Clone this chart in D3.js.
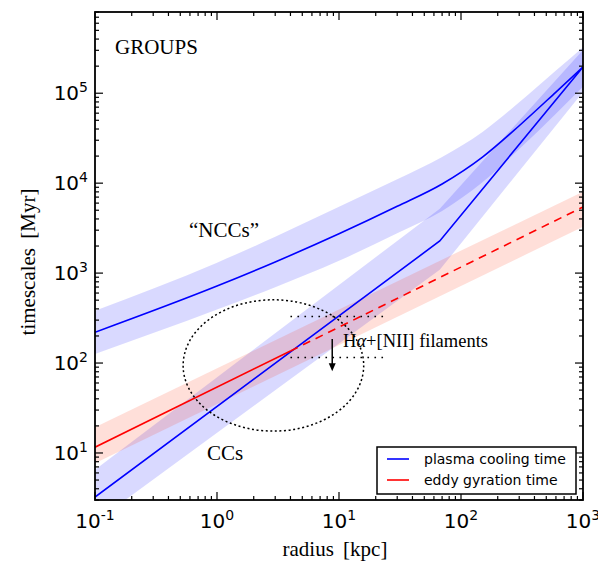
<!DOCTYPE html>
<html><head><meta charset="utf-8">
<script src="https://cdn.jsdelivr.net/npm/d3@7"></script>
<style>body{margin:0;background:#fff}</style>
</head><body>
<svg id="c" width="598" height="563"></svg>
<script>
// ---- data ----
const nccRadius = [0.1, 1, 3, 10, 30, 70, 150, 300, 600, 1000];
const nccTime   = [220, 718, 1330, 2735, 5530, 9800, 19500, 43500, 103000, 196000];
const nccHigh   = [382, 1306, 2535, 5460, 11040, 19540, 37150, 79250, 179000, 325000];
const nccLow    = [126, 394, 698, 1370, 2770, 4910, 10230, 23930, 59300, 118000];

const ccRadius = [0.1, 67, 1000];
const ccTime   = [3.24, 2275, 196000];
const ccHigh   = [6.5, 5210, 303000];
const ccLow    = [1.7, 1090, 103000];

const eddyRadius = [0.1, 4, 1000];   // solid up to 4 kpc, dashed beyond
const eddyTime   = [11.6, 136, 5430];
const eddyBandRadius = [0.1, 1000];
const eddyHigh = [19.3, 8040];
const eddyLow  = [7.7, 3270];

const filamentRadius = [4, 25];
const filamentTimes  = [330, 115];
const arrowRadius = 8.8;
const arrowTimes  = [185, 81];
const ellipseCenter = [2.9, 94];
const ellipseHalfDex = [0.74, 0.73];

const xMajor = [0.1, 1, 10, 100, 1000];
const xExp   = ["-1", "0", "1", "2", "3"];
const yMajor = [10, 100, 1000, 10000, 100000];
const yExp   = ["1", "2", "3", "4", "5"];
const xDomain = [0.1, 1000];
const yDomain = [3, 8e5];

const legendLabels = ["plasma cooling time", "eddy gyration time"];
const legendColors = ["#0000ff", "#ff0000"];

// ---- layout ----
const L = 95, T = 12, W = 488, H = 488;
const svg = d3.select("#c");
const x = d3.scaleLog().domain(xDomain).range([L, L + W]);
const y = d3.scaleLog().domain(yDomain).range([T + H, T]);

svg.append("defs").append("clipPath").attr("id", "clip")
  .append("rect").attr("x", L).attr("y", T).attr("width", W).attr("height", H);
const g = svg.append("g").attr("clip-path", "url(#clip)");

const area = (rs, lo, hi, curve) => d3.area().curve(curve || d3.curveLinear)
  .x((d, i) => x(rs[i])).y0((d, i) => y(lo[i])).y1((d, i) => y(hi[i]))(rs);
const line = (rs, ts, curve) => d3.line().curve(curve || d3.curveLinear)
  .x((d, i) => x(rs[i])).y((d, i) => y(ts[i]))(rs);

// bands
g.append("path").attr("d", area(nccRadius, nccLow, nccHigh, d3.curveMonotoneX)).attr("fill", "#0000ff").attr("fill-opacity", 0.15);
g.append("path").attr("d", area(ccRadius, ccLow, ccHigh)).attr("fill", "#0000ff").attr("fill-opacity", 0.15);
g.append("path").attr("d", area(eddyBandRadius, eddyLow, eddyHigh)).attr("fill", "#ff2a00").attr("fill-opacity", 0.15);

// lines
g.append("path").attr("d", line(nccRadius, nccTime, d3.curveMonotoneX)).attr("fill", "none").attr("stroke", "#0000ff").attr("stroke-width", 1.6);
g.append("path").attr("d", line(ccRadius, ccTime)).attr("fill", "none").attr("stroke", "#0000ff").attr("stroke-width", 1.6);
g.append("path").attr("d", line(eddyRadius.slice(0, 2), eddyTime.slice(0, 2))).attr("fill", "none").attr("stroke", "#ff0000").attr("stroke-width", 1.6);
g.append("path").attr("d", line(eddyRadius.slice(1), eddyTime.slice(1))).attr("fill", "none").attr("stroke", "#ff0000").attr("stroke-width", 1.6).attr("stroke-dasharray", "8,6");

// ellipse
const ecx = x(ellipseCenter[0]), ecy = y(ellipseCenter[1]);
const erx = x(ellipseCenter[0] * Math.pow(10, ellipseHalfDex[0])) - ecx;
const ery = y(ellipseCenter[1] / Math.pow(10, ellipseHalfDex[1])) - ecy;
g.append("ellipse").attr("cx", ecx).attr("cy", ecy).attr("rx", erx).attr("ry", ery)
  .attr("fill", "none").attr("stroke", "#000").attr("stroke-width", 1.5).attr("stroke-dasharray", "2,2.6");

// filament dotted lines
filamentTimes.forEach(t => {
  g.append("line").attr("x1", x(filamentRadius[0])).attr("x2", x(filamentRadius[1]))
    .attr("y1", y(t)).attr("y2", y(t)).attr("stroke", "#000").attr("stroke-width", 1.5).attr("stroke-dasharray", "1.6,5.4");
});
// arrow
const ax = x(arrowRadius), ay0 = y(arrowTimes[0]), ay1 = y(arrowTimes[1]);
g.append("line").attr("x1", ax).attr("x2", ax).attr("y1", ay0).attr("y2", ay1 - 7).attr("stroke", "#000").attr("stroke-width", 1.5);
g.append("path").attr("d", `M${ax - 3.5},${ay1 - 8}L${ax + 3.5},${ay1 - 8}L${ax},${ay1}Z`).attr("fill", "#000");

// ---- texts ----
const serif = "'Liberation Serif','DejaVu Serif',serif";
const sans = "'DejaVu Sans',sans-serif";
svg.append("text").attr("x", 115).attr("y", 54).attr("font-family", serif).attr("font-size", 21).text("GROUPS");
svg.append("text").attr("x", 189).attr("y", 237).attr("font-family", serif).attr("font-size", 21).text("\u201cNCCs\u201d");
svg.append("text").attr("x", 207).attr("y", 460).attr("font-family", serif).attr("font-size", 21).text("CCs");
const ft = svg.append("text").attr("x", 343).attr("y", 347).attr("font-family", serif).attr("font-size", 18.5);
ft.append("tspan").text("H");
ft.append("tspan").attr("font-style", "italic").text("\u03b1");
ft.append("tspan").text("+[NII] filaments");

// ---- axes ----
const ticksFor = (dom) => {
  const out = [];
  for (let d = Math.floor(Math.log10(dom[0])); d <= Math.ceil(Math.log10(dom[1])); d++)
    for (let k = 1; k <= 9; k++) { const v = k * Math.pow(10, d); if (v >= dom[0] * 0.9999 && v <= dom[1] * 1.0001) out.push([v, k === 1]); }
  return out;
};
const ax_g = svg.append("g").attr("stroke", "#000").attr("stroke-width", 1.2);
ticksFor(xDomain).forEach(([v, maj]) => {
  const len = maj ? 8 : 4, px = x(v);
  ax_g.append("line").attr("x1", px).attr("x2", px).attr("y1", T + H).attr("y2", T + H - len);
  ax_g.append("line").attr("x1", px).attr("x2", px).attr("y1", T).attr("y2", T + len);
});
ticksFor(yDomain).forEach(([v, maj]) => {
  const len = maj ? 8 : 4, py = y(v);
  ax_g.append("line").attr("y1", py).attr("y2", py).attr("x1", L).attr("x2", L + len);
  ax_g.append("line").attr("y1", py).attr("y2", py).attr("x1", L + W).attr("x2", L + W - len);
});
svg.append("rect").attr("x", L).attr("y", T).attr("width", W).attr("height", H)
  .attr("fill", "none").attr("stroke", "#000").attr("stroke-width", 1.8);

xMajor.forEach((v, i) => {
  const t = svg.append("text").attr("x", x(v)).attr("y", 528).attr("text-anchor", "middle")
    .attr("font-family", sans).attr("font-size", 20);
  t.append("tspan").text("10");
  t.append("tspan").attr("dy", -8).attr("font-size", 14).text(xExp[i]);
});
yMajor.forEach((v, i) => {
  const t = svg.append("text").attr("x", 88).attr("y", y(v) + 7).attr("text-anchor", "end")
    .attr("font-family", sans).attr("font-size", 20);
  t.append("tspan").text("10");
  t.append("tspan").attr("dy", -8).attr("font-size", 14).text(yExp[i]);
});

svg.append("text").attr("x", L + W / 2 - 4).attr("y", 556).attr("text-anchor", "middle")
  .attr("font-family", serif).attr("font-size", 21).attr("word-spacing", 4).text("radius [kpc]");
svg.append("text").attr("transform", `translate(35,${T + H / 2 + 6}) rotate(-90)`).attr("text-anchor", "middle")
  .attr("font-family", serif).attr("font-size", 21).attr("word-spacing", 4).text("timescales [Myr]");

// ---- legend ----
const lg = svg.append("g");
lg.append("rect").attr("x", 377).attr("y", 447).attr("width", 199).attr("height", 47)
  .attr("fill", "#fff").attr("stroke", "#000").attr("stroke-width", 1.5);
legendLabels.forEach((lab, i) => {
  const ly = 459 + i * 21;
  lg.append("line").attr("x1", 387).attr("x2", 409).attr("y1", ly).attr("y2", ly)
    .attr("stroke", legendColors[i]).attr("stroke-width", 1.6);
  lg.append("text").attr("x", 424).attr("y", ly + 5).attr("font-family", sans).attr("font-size", 14).text(lab);
});
</script>
</body></html>
